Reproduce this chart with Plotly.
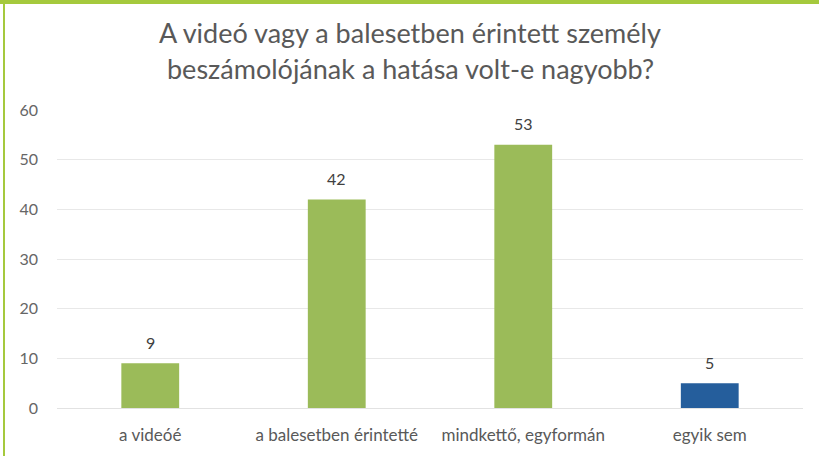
import plotly.graph_objects as go

categories = ["a videóé", "a balesetben érintetté", "mindkettő, egyformán", "egyik sem"]
values = [9, 42, 53, 5]
bar_colors = ["#9BBB59", "#9BBB59", "#9BBB59", "#255E9C"]
title_lines = ["A videó vagy a balesetben érintett személy",
               "beszámolójának a hatása volt-e nagyobb?"]
y_ticks = [0, 10, 20, 30, 40, 50, 60]

FONT = "Lato, Open Sans, sans-serif"
PLOT_W, PLOT_H = 746, 298

fig = go.Figure()
fig.add_trace(go.Bar(
    x=categories, y=values,
    marker=dict(color=bar_colors, line=dict(width=0)),
    width=0.31,
    hoverinfo="x+y",
))

for c, v in zip(categories, values):
    fig.add_annotation(x=c, y=v, text=str(v), showarrow=False, yshift=21,
                       font=dict(family=FONT, size=16, color="#404040"))

# title lines as paper annotations (centers at 32px and 68px from top)
for i, (line, ypx) in enumerate(zip(title_lines, [32, 68])):
    fig.add_annotation(xref="paper", yref="paper", x=(410 - 57) / PLOT_W,
                       y=1 + (110 - ypx) / PLOT_H, text=line, showarrow=False,
                       xanchor="center", yanchor="middle",
                       font=dict(family=FONT, size=27, color="#595959"))

fig.update_layout(
    width=819, height=456,
    paper_bgcolor="white", plot_bgcolor="white",
    margin=dict(l=57, r=16, t=110, b=48),
    showlegend=False,
    xaxis=dict(showgrid=False, showline=False, ticks="", ticklabelstandoff=15,
               tickfont=dict(family=FONT, size=17, color="#595959")),
    yaxis=dict(range=[0, 60], tickvals=y_ticks, showgrid=True, gridcolor="#E8E8E8", gridwidth=1,
               zeroline=True, zerolinecolor="#E2E2E2", zerolinewidth=1, showline=False,
               ticks="", ticklabelstandoff=18,
               tickfont=dict(family=FONT, size=16, color="#666666")),
    shapes=[
        dict(type="rect", xref="paper", yref="paper", x0=-57 / PLOT_W, x1=(PLOT_W + 16) / PLOT_W,
             y0=1 + 106 / PLOT_H, y1=1 + 111 / PLOT_H, fillcolor="#A5C93D", line=dict(width=0), layer="above"),
        dict(type="rect", xref="paper", yref="paper", x0=-54 / PLOT_W, x1=-52 / PLOT_W,
             y0=-49 / PLOT_H, y1=1 + 111 / PLOT_H, fillcolor="#A5C93D", line=dict(width=0), layer="above"),
    ],
)

fig.write_html("out.html")
